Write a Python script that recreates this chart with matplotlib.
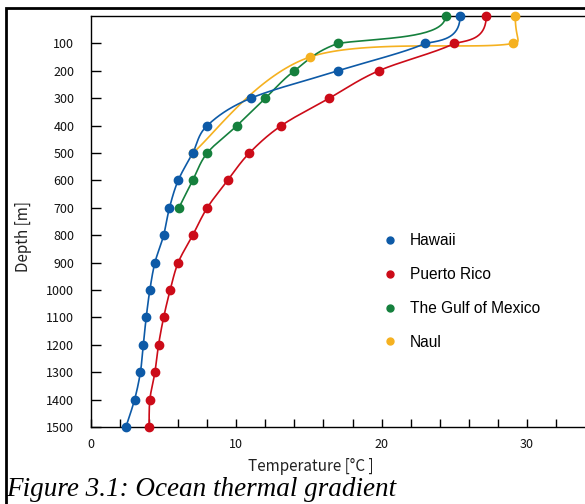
"""
Ocean thermal gradient — temperature vs depth for four sites (smoothed lines).
Out: out.png
"""
import numpy as np
import matplotlib
matplotlib.use("Agg")
import matplotlib.pyplot as plt
from matplotlib.lines import Line2D
from matplotlib.patches import Rectangle

# values (depth in m, temperature in deg C)
hawaii_depth = [0, 100, 200, 300, 400, 500, 600, 700, 800, 900, 1000, 1100, 1200, 1300, 1400, 1500]
hawaii_temp = [25.4, 23.0, 17.0, 11.0, 8.0, 7.0, 6.0, 5.4, 5.0, 4.4, 4.05, 3.8, 3.6, 3.4, 3.0, 2.4]

puerto_depth = [0, 100, 200, 300, 400, 500, 600, 700, 800, 900, 1000, 1100, 1200, 1300, 1400, 1500]
puerto_temp = [27.2, 25.0, 19.8, 16.4, 13.1, 10.9, 9.4, 8.0, 7.0, 6.0, 5.45, 5.0, 4.65, 4.4, 4.05, 4.0]

gulf_depth = [0, 100, 200, 300, 400, 500, 600, 700]
gulf_temp = [24.4, 17.0, 14.0, 12.0, 10.05, 8.0, 7.0, 6.05]

naul_depth = [0, 100, 150, 500]
naul_temp = [29.2, 29.05, 15.05, 7.0]

series = [
    ("Naul", naul_temp, naul_depth, "#f5b120"),
    ("The Gulf of Mexico", gulf_temp, gulf_depth, "#15803d"),
    ("Puerto Rico", puerto_temp, puerto_depth, "#cc0b18"),
    ("Hawaii", hawaii_temp, hawaii_depth, "#0d5aa7"),
]
legend_order = ["Hawaii", "Puerto Rico", "The Gulf of Mexico", "Naul"]

XMAX, YMAX = 34.0, 1500
W, H = 585, 504
AX = [91 / W, 1 - 427 / H, 1 - 91 / W, (427 - 16) / H]
JP = ["Noto Sans CJK JP", "DejaVu Sans"]


def bezier(p1, c1, c2, p2, n=40):
    t = np.linspace(0, 1, n)[:, None]
    return (1 - t) ** 3 * p1 + 3 * (1 - t) ** 2 * t * c1 + 3 * (1 - t) * t ** 2 * c2 + t ** 3 * p2


def smooth(xs, ys, sx, sy):
    """Smoothed line through the points, worked out in pixel space.
    The surface segment leaves the top axis vertically (as in the original figure),
    the rest use spreadsheet-style capped Bezier handles."""
    p = np.column_stack([np.asarray(xs) * sx, np.asarray(ys) * sy])
    ext = np.vstack([p[0], p, p[-1]])
    out = []
    for i in range(1, len(ext) - 2):
        p0, p1, p2, p3 = ext[i - 1], ext[i], ext[i + 1], ext[i + 2]
        d12 = np.linalg.norm(p2 - p1)
        if i == 1:
            c1 = p1 + np.array([0.0, 0.85 * (p2[1] - p1[1])])
            v = (p1 - p3) * np.array([1.0, 0.4])
            c2 = p2 + v / np.linalg.norm(v) * 0.35 * d12
        else:
            d02 = np.linalg.norm(p2 - p0)
            d13 = np.linalg.norm(p3 - p1)
            f1 = 1 / 6 if d02 / 6 < d12 / 2 else d12 / (2 * d02)
            f2 = 1 / 6 if d13 / 6 < d12 / 2 else d12 / (2 * d13)
            c1 = p1 + f1 * (p2 - p0)
            c2 = p2 - f2 * (p3 - p1)
        seg = bezier(p1, c1, c2, p2)
        out.append(seg if i == 1 else seg[1:])
    out = np.vstack(out)
    return out[:, 0] / sx, out[:, 1] / sy


fig = plt.figure(figsize=(W / 100, H / 100), dpi=100)
ax = fig.add_axes(AX)

sx = AX[2] * W / XMAX
sy = AX[3] * H / YMAX
for name, temp, depth, col in series:
    cx, cy = smooth(temp, depth, sx, sy)
    ax.plot(cx, cy, color=col, lw=1.2, solid_capstyle="round", zorder=2, clip_on=False)
    ax.plot(temp, depth, "o", color=col, ms=6, mec=col, zorder=3, clip_on=False)

ax.set_xlim(0, XMAX)
ax.set_ylim(YMAX, 0)
ax.set_xticks([0, 10, 20, 30])
ax.set_xticks(np.arange(0, XMAX, 2), minor=True)
ax.set_yticks(np.arange(100, 1501, 100))
ax.spines["right"].set_visible(False)
for s in ("left", "bottom", "top"):
    ax.spines[s].set_linewidth(1.0)
ax.tick_params(axis="y", direction="in", length=7, width=1, pad=12, labelsize=9)
ax.tick_params(axis="x", which="both", direction="in", length=6, width=1, pad=8, labelsize=9)
ax.tick_params(axis="x", which="minor", labelbottom=False)
ax.tick_params(top=False, right=False)
for lab in ax.get_xticklabels() + ax.get_yticklabels():
    lab.set_family(JP)
    lab.set_color("#111111")

handles = {name: Line2D([], [], ls="none", marker="o", ms=5, color=col, mec=col)
           for name, _, _, col in series}
ax.legend([handles[n] for n in legend_order], legend_order, loc="upper left",
          bbox_to_anchor=((368 - 91) / (W - 91), 1 - (219 - 16) / (427 - 16)),
          frameon=False, handletextpad=0.8, labelspacing=1.22,
          prop={"family": "Liberation Sans", "size": 11.2}, handlelength=1.0)

fig.text(311 / W, 1 - 466 / H, "Temperature [°C ]", ha="center", va="center",
         fontsize=11, family=JP, color="#222222")
fig.text(24 / W, 1 - 236 / H, "Depth [m]", ha="center", va="center", rotation=90,
         fontsize=11, family=JP, color="#222222")
fig.text(6 / W, 1 - 490 / H, "Figure 3.1: Ocean thermal gradient", ha="left", va="center",
         fontsize=19.5, family="Liberation Serif", style="italic")

# outer frame of the cropped figure (top and left edges)
fig.add_artist(Rectangle((6 / W, -0.1), 1.2, 1 - 8 / H + 0.1, transform=fig.transFigure,
                         fill=False, ec="black", lw=2))

fig.savefig("out.png", dpi=100)
